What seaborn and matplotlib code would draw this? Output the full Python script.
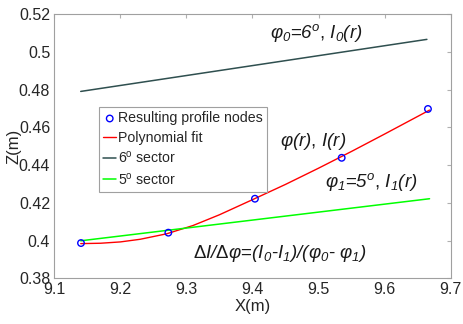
import numpy as np
import pandas as pd
import matplotlib
matplotlib.use("Agg")
import matplotlib.pyplot as plt
import seaborn as sns
from matplotlib.ticker import FuncFormatter

# --- données ---
node_x = [9.1404, 9.2726, 9.4037, 9.5350, 9.6656]
node_z = [0.3987, 0.4042, 0.4222, 0.4439, 0.4698]

fit_x = [9.14, 9.17, 9.20, 9.23, 9.27, 9.31, 9.35, 9.40, 9.45, 9.50, 9.55, 9.60, 9.668]
fit_z = [0.3984, 0.3986, 0.3993, 0.4007, 0.4036, 0.4080, 0.4137, 0.4217,
         0.4298, 0.4384, 0.4473, 0.4565, 0.4692]

sector6_x = [9.14, 9.664]
sector6_z = [0.4791, 0.5067]
sector5_x = [9.14, 9.668]
sector5_z = [0.3999, 0.4222]

labels = ['Resulting profile nodes', 'Polynomial fit',
          r'6$^{\mathrm{o}}$ sector', r'5$^{\mathrm{o}}$ sector']

sns.set_style("white")
plt.rcParams['font.family'] = ['Liberation Sans', 'DejaVu Sans']
plt.rcParams['mathtext.fontset'] = 'custom'
plt.rcParams['mathtext.rm'] = 'Liberation Sans'
plt.rcParams['mathtext.it'] = 'Liberation Sans:italic'
plt.rcParams['mathtext.sf'] = 'Liberation Sans:italic'

fig = plt.figure(figsize=(4.63, 3.24), dpi=100)
ax = fig.add_axes([0.1173, 0.141, 0.8561, 0.8149])

df_fit = pd.DataFrame({'x': fit_x, 'z': fit_z})
sns.lineplot(data=df_fit, x='x', y='z', color='#ff0000', lw=1.0, ax=ax,
             label=labels[1], sort=False)
sns.lineplot(x=sector6_x, y=sector6_z, color='#2f4f4f', lw=1.1, ax=ax, label=labels[2])
sns.lineplot(x=sector5_x, y=sector5_z, color='#00ff00', lw=1.1, ax=ax, label=labels[3])
sns.scatterplot(x=node_x, y=node_z, marker='o', s=22, facecolors='none',
                edgecolor='#0000ff', linewidth=1.0, ax=ax, label=labels[0], zorder=6)

ax.set_xlim(9.1, 9.7)
ax.set_ylim(0.38, 0.52)
ax.set_xticks(np.arange(9.1, 9.71, 0.1))
ax.set_yticks(np.arange(0.38, 0.521, 0.02))
fmt = FuncFormatter(lambda v, p: f'{v:g}')
ax.xaxis.set_major_formatter(fmt)
ax.yaxis.set_major_formatter(fmt)
ax.tick_params(direction='in', length=3, width=0.8, color='#b0b0b0',
               labelsize=11.5, labelcolor='#262626', top=True, right=True, pad=3)
for s in ax.spines.values():
    s.set_color('#a0a0a0')
    s.set_linewidth(0.8)
ax.set_xlabel('X(m)', fontsize=12, color='#262626', labelpad=1)
ax.set_ylabel('Z(m)', fontsize=12, color='#262626', labelpad=-2)

# légende dans l'ordre de la figure
h, l = ax.get_legend_handles_labels()
order = [l.index(t) for t in labels]
leg = ax.legend([h[i] for i in order], [l[i] for i in order],
                loc='upper left', bbox_to_anchor=(0.113, 0.649), borderaxespad=0,
                fontsize=10.2, handlelength=0.9, handletextpad=0.15,
                labelspacing=0.38, borderpad=0.3, fancybox=False, framealpha=1,
                edgecolor='#a0a0a0')
leg.get_frame().set_linewidth(0.8)

tk = dict(fontsize=13.5, color='#1a1a1a', va='center', ha='left')
ax.text(9.4265, 0.5101,
        r'$\varphi_{\mathsf{0}}\text{=}\mathsf{6}^{\mathsf{o}}\text{, }\mathsf{I}_{\mathsf{0}}\mathsf{(r)}$', **tk)
ax.text(9.4416, 0.4524, r'$\varphi\mathsf{(r)}\text{, }\mathsf{I(r)}$', **tk)
ax.text(9.510, 0.4312,
        r'$\varphi_{\mathsf{1}}\text{=}\mathsf{5}^{\mathsf{o}}\text{, }\mathsf{I}_{\mathsf{1}}\mathsf{(r)}$', **tk)
ax.text(9.3095, 0.3934,
        r'$\Delta\mathsf{I/}\Delta\varphi\text{=}\mathsf{(I}_{\mathsf{0}}\text{-}\mathsf{I}_{\mathsf{1}}\mathsf{)/(}'
        r'\varphi_{\mathsf{0}}\text{- }\varphi_{\mathsf{1}}\mathsf{)}$', **tk)

plt.savefig('out.png', dpi=100)
